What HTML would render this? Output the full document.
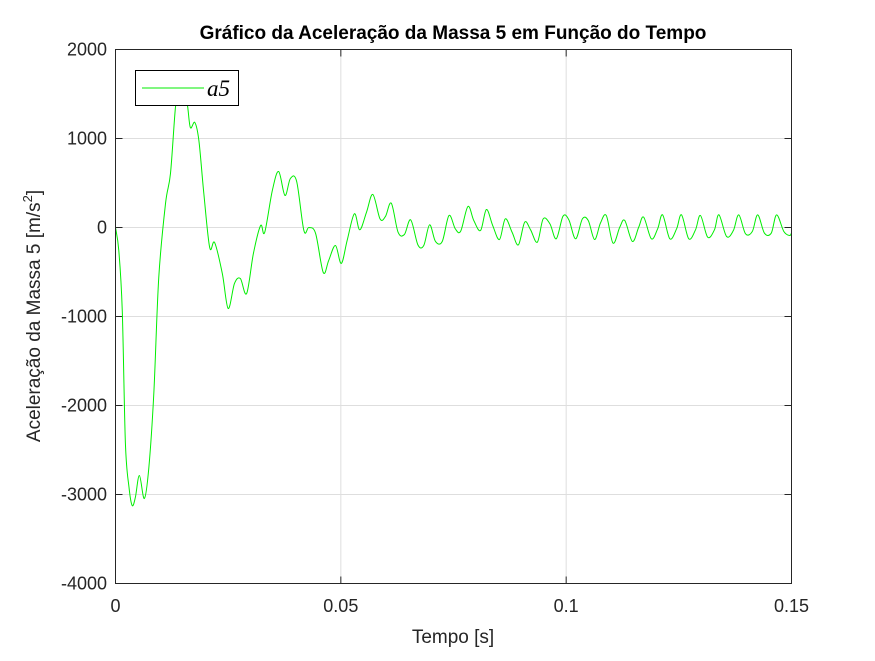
<!DOCTYPE html>
<html><head><meta charset="utf-8"><style>
body{margin:0;background:#fff;}
svg text{font-family:"Liberation Sans",Arial,sans-serif;}
</style></head><body>
<svg id="chart" width="875" height="656" xmlns="http://www.w3.org/2000/svg">
<rect width="875" height="656" fill="#fff"/>
<g id="grid"></g>
<g id="ticks"></g>
<path id="series" fill="none" stroke="#00ee00" stroke-width="1"/>
<rect x="115.5" y="49.5" width="676" height="534" fill="none" stroke="#262626" stroke-width="1"/>
<text x="453" y="39" text-anchor="middle" font-size="19" font-weight="bold" fill="#000">Gráfico da Aceleração da Massa 5 em Função do Tempo</text>
<text x="453" y="643" text-anchor="middle" font-size="19" fill="#262626">Tempo [s]</text>
<text transform="translate(40,316) rotate(-90)" text-anchor="middle" font-size="19" fill="#262626">Aceleração da Massa 5 [m/s<tspan font-size="13" dy="-8">2</tspan><tspan dy="8">]</tspan></text>
<g>
<rect x="135.5" y="70.5" width="103" height="35" fill="#fff" stroke="#000" stroke-width="1"/>
<line x1="142" y1="88" x2="204" y2="88" stroke="#00ee00" stroke-width="1"/>
<text x="207" y="96" font-size="23" fill="#000" style="font-family:'Liberation Serif',serif;font-style:italic;">a5</text>
</g>
</svg>
<script>
const xTicks=[0,0.05,0.1,0.15];
const xTickLabels=["0","0.05","0.1","0.15"];
const yTicks=[2000,1000,0,-1000,-2000,-3000,-4000];
const yTickLabels=["2000","1000","0","-1000","-2000","-3000","-4000"];
const tVals=[0,0.00073,0.0015,0.0022,0.003,0.0037,0.0044,0.0053,0.0064,0.0074,0.0085,0.0096,0.0111,0.0122,0.0133,0.0140,0.0150,0.0159,0.0166,0.0176,0.0185,0.0196,0.0209,0.022,0.0237,0.025,0.0264,0.0277,0.0291,0.0306,0.0322,0.0331,0.0348,0.0362,0.0376,0.0388,0.0402,0.0418,0.0429,0.0444,0.0461,0.0473,0.0488,0.0501,0.0514,0.053,0.0542,0.0557,0.0571,0.0587,0.0599,0.0612,0.0627,0.0641,0.0655,0.0671,0.0684,0.0697,0.071,0.0725,0.074,0.0754,0.0766,0.0782,0.0795,0.081,0.0823,0.0837,0.0852,0.0865,0.088,0.0894,0.0908,0.0921,0.0936,0.0949,0.0964,0.0978,0.0993,0.1006,0.1021,0.1036,0.1049,0.1063,0.1076,0.1089,0.1104,0.1119,0.113,0.1147,0.1161,0.1172,0.1189,0.1203,0.1214,0.123,0.1245,0.1256,0.1272,0.1287,0.1298,0.1314,0.1329,0.1339,0.1356,0.1371,0.1383,0.1398,0.1413,0.1425,0.144,0.1455,0.1467,0.1483,0.1496,0.15];
const aVals=[0,-258,-933,-2427,-2921,-3124,-3034,-2787,-3045,-2697,-1865,-562,270,607,1348,1500,1480,1393,1124,1180,978,382,-225,-169,-517,-910,-629,-573,-742,-292,22,-56,416,629,360,550,517,-34,0,-67,-506,-371,-202,-404,-146,154,-26,172,371,97,124,273,-53,-79,86,-195,-202,30,-157,-157,135,-15,-41,236,79,-34,202,22,-135,97,-53,-195,60,-26,-165,97,41,-127,127,86,-127,97,79,-135,49,135,-176,4,79,-157,4,116,-127,-15,142,-127,-15,142,-127,-26,135,-109,-26,142,-101,-34,142,-71,-45,142,-64,-64,142,-45,-90,-60];
const X0=115.5,X1=791.5,Y0=49.5,Y1=583.5;
function sx(t){return X0+(t-0)/(0.15)*(X1-X0);}
function sy(a){return Y0+(2000-a)/6000*(Y1-Y0);}
const NS="http://www.w3.org/2000/svg";
const grid=document.getElementById('grid'),ticks=document.getElementById('ticks');
function mk(tag,attrs,parent){const e=document.createElementNS(NS,tag);for(const k in attrs)e.setAttribute(k,attrs[k]);parent.appendChild(e);return e;}
xTicks.forEach((t,i)=>{
  const x=sx(t);
  const g=mk('line',{x1:x,y1:Y0,x2:x,y2:Y1,stroke:'#dedede','stroke-width':1},grid);
  
  
  const tk=mk('line',{x1:x,y1:Y1,x2:x,y2:Y1-7,stroke:'#262626'},ticks);
  
  
  const tk2=mk('line',{x1:x,y1:Y0,x2:x,y2:Y0+7,stroke:'#262626'},ticks);
  
  
  const lb=mk('text',{x:x,y:612,'text-anchor':'middle','font-size':18,fill:'#262626'},ticks);
  lb.textContent=xTickLabels[i];
  
  
});
yTicks.forEach((v,i)=>{
  const y=sy(v);
  const g=mk('line',{x1:X0,y1:y,x2:X1,y2:y,stroke:'#dedede','stroke-width':1},grid);
  
  
  const tk=mk('line',{x1:X0,y1:y,x2:X0+7,y2:y,stroke:'#262626'},ticks);
  
  
  const tk2=mk('line',{x1:X1,y1:y,x2:X1-7,y2:y,stroke:'#262626'},ticks);
  
  
  const lb=mk('text',{x:107,y:y+6,'text-anchor':'end','font-size':18,fill:'#262626'},ticks);
  lb.textContent=yTickLabels[i];
  
  
});
const P=tVals.map((t,i)=>[sx(t),sy(aVals[i])]);
let d='M'+P[0][0].toFixed(2)+','+P[0][1].toFixed(2);
for(let i=0;i<P.length-1;i++){
  const p0=P[i-1]||P[i],p1=P[i],p2=P[i+1],p3=P[i+2]||P[i+1];
  const c1=[p1[0]+(p2[0]-p0[0])/6,p1[1]+(p2[1]-p0[1])/6];
  const c2=[p2[0]-(p3[0]-p1[0])/6,p2[1]-(p3[1]-p1[1])/6];
  d+=' C'+c1[0].toFixed(2)+','+c1[1].toFixed(2)+' '+c2[0].toFixed(2)+','+c2[1].toFixed(2)+' '+p2[0].toFixed(2)+','+p2[1].toFixed(2);
}
document.getElementById('series').setAttribute('d',d);
</script>
</body></html>
